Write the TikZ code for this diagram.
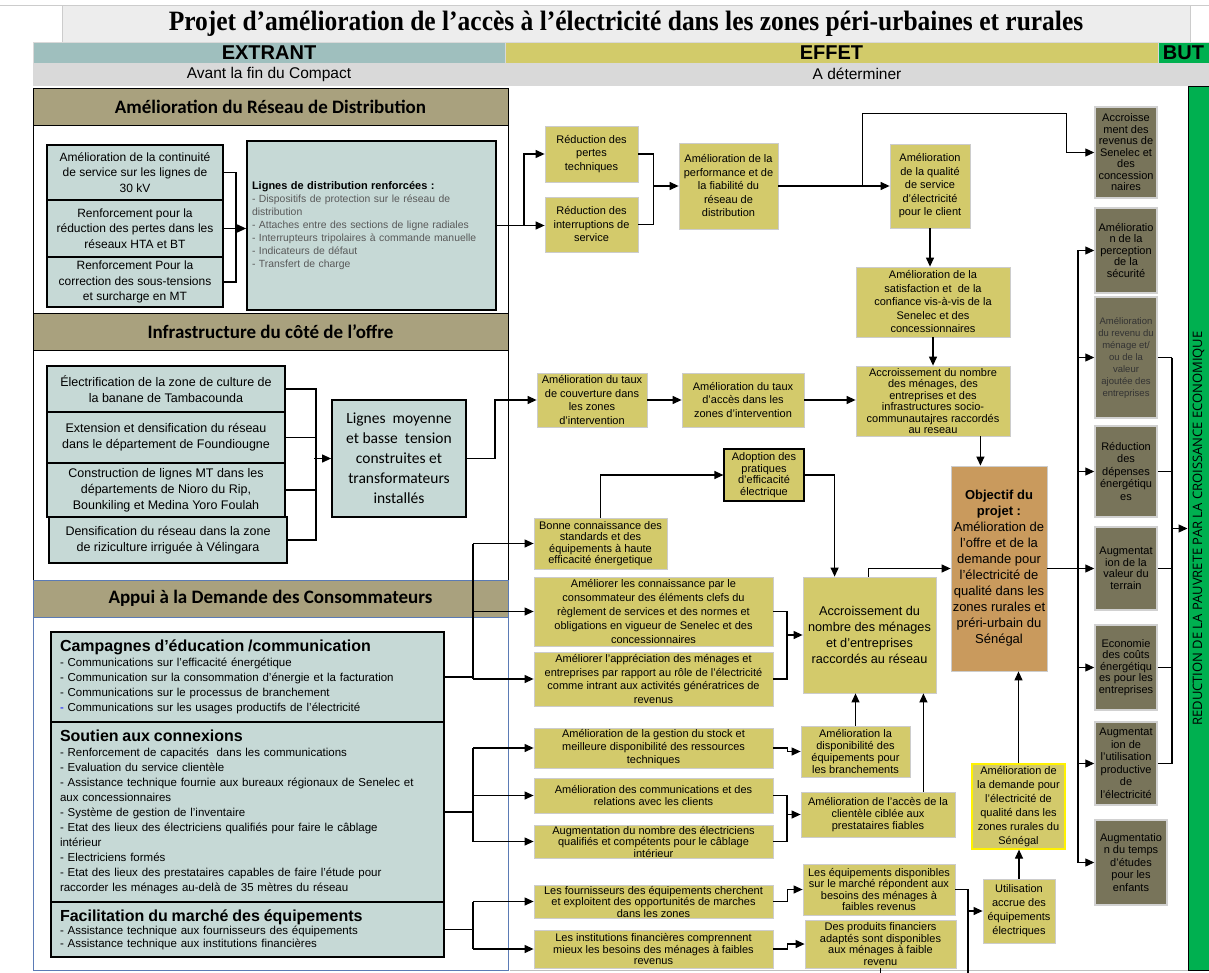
\documentclass[tikz,border=0pt]{standalone}
\usepackage{fontspec}
\setmainfont{Liberation Sans}
\newfontfamily\calib{Carlito}
\newfontfamily\opsans{Open Sans}
\newfontfamily\tnr{Liberation Serif}[FakeStretch=0.91]
\usetikzlibrary{arrows.meta,calc}

\definecolor{extband}{HTML}{9FBFBE}
\definecolor{effband}{HTML}{D2CB6A}
\definecolor{butgreen}{HTML}{00B050}
\definecolor{subband}{HTML}{D9D9D9}
\definecolor{titlegray}{HTML}{EDEDED}
\definecolor{sechead}{HTML}{A9A17E}
\definecolor{extfill}{HTML}{C6D9D6}
\definecolor{efffill}{HTML}{D3CA6B}
\definecolor{butfill}{HTML}{78745A}
\definecolor{objfill}{HTML}{C99A5D}
\definecolor{secblue}{HTML}{5B7BB5}

% box from (#4,#5) to (#6,#7), pixel units
\newcommand\bx[8][]{%
  \pgfmathsetmacro\bxw{#6-#4}\pgfmathsetmacro\bxh{#7-#5}%
  \node[#2,minimum width=\bxw pt,minimum height=\bxh pt,#1] (#3) at ({(#4+#6)/2},{(#5+#7)/2}) {#8};}

\tikzset{
  band/.style={draw=black!15,line width=0.5pt,inner sep=0pt,font=\bfseries\fontsize{20}{21}\selectfont},
  subb/.style={draw=black!15,line width=0.5pt,fill=subband,inner sep=0pt,font=\fontsize{15.5}{16}\selectfont},
  sec/.style={draw=black,line width=0.8pt,fill=sechead,inner sep=0pt,font=\calib\bfseries\fontsize{19}{21}\selectfont},
  ext/.style={draw=black,line width=1.8pt,fill=extfill,align=center,inner sep=1pt,font=\fontsize{12}{15.5}\selectfont},
  lst/.style={align=left,inner xsep=9pt,font=\fontsize{11.5}{15}\selectfont},
  eff/.style={draw=black!20,line width=0.8pt,fill=efffill,align=center,inner sep=1pt,font=\fontsize{11}{13.5}\selectfont},
  tight/.style={font=\fontsize{11}{11.5}\selectfont},
  but/.style={draw=black!18,line width=1.5pt,fill=butfill,align=center,inner sep=1pt,font=\fontsize{11}{11.5}\selectfont},
  lnk/.style={line width=1.2pt},
  arr/.style={lnk,-{Triangle[length=9pt,width=8pt]}}
}

\begin{document}
\begin{tikzpicture}[x=1pt,y=-1pt]
\useasboundingbox (0,0) rectangle (1209,973);
\fill[white] (0,0) rectangle (1209,973);
\draw[black!20] (0,5) -- (1209,5);

% header
\bx{draw=black!20,fill=titlegray,inner sep=0pt,font=\tnr\bfseries\fontsize{28}{30}\selectfont}{title}{62}{5}{1190}{42}{Projet d’amélioration de l’accès à l’électricité dans les zones péri-urbaines et rurales}
\bx{band,fill=extband}{extr}{33}{42}{505}{63}{EXTRANT}
\bx{band,fill=effband}{effet}{505}{42}{1158}{63}{EFFET}
\bx{band,fill=butgreen}{butb}{1158}{42}{1209}{63}{BUT}
\bx{subb}{avant}{33}{63}{505}{85}{Avant la fin du Compact}
\bx{subb}{adet}{505}{63}{1209}{85}{A déterminer}

% sections
\draw[line width=0.6pt] (33,88) rectangle (508,580);
\draw[secblue,line width=0.8pt] (33,580) rectangle (508,970);
\bx{sec}{h1}{33}{88}{508}{125}{Amélioration du Réseau de Distribution}
\bx{sec}{h2}{33}{313}{508}{350}{Infrastructure du côté de l’offre}
\bx{sec,draw=secblue}{h3}{33}{580}{508}{617}{Appui à la Demande des Consommateurs}

\bx{ext}{a1}{47}{145}{223}{200}{Amélioration de la continuité\\de service sur les lignes de\\30 kV}
\bx{ext}{a2}{47}{200}{223}{257}{Renforcement pour la\\réduction des pertes dans les\\réseaux HTA et BT}
\bx{ext}{a3}{47}{257}{223}{307}{Renforcement Pour la\\correction des sous-tensions\\et surcharge en MT}
\bx[align=left,text width=239pt,inner xsep=5pt,text=black!65,font=\fontsize{10.4}{13}\selectfont]{ext}{b1}{247}{141}{496}{310}{{\color{black}\bfseries\fontsize{11}{13}\selectfont Lignes de distribution renforcées :}\\- Dispositifs de protection sur le réseau de\\distribution\\- Attaches entre des sections de ligne radiales\\- Interrupteurs tripolaires à commande manuelle\\- Indicateurs de défaut\\- Transfert de charge}

\bx[font=\fontsize{12.5}{16}\selectfont]{ext}{i1}{47}{366}{285}{412}{Électrification de la zone de culture de\\la banane de Tambacounda}
\bx[font=\fontsize{12.5}{16}\selectfont]{ext}{i2}{47}{412}{285}{463}{Extension et densification du réseau\\dans le département de Foundiougne}
\bx[font=\fontsize{12.5}{16}\selectfont]{ext}{i3}{47}{463}{285}{517}{Construction de lignes MT dans les\\départements de Nioro du Rip,\\Bounkiling et Medina Yoro Foulah}
\bx[font=\fontsize{12.5}{16}\selectfont]{ext}{i4}{49}{517}{287}{563}{Densification du réseau dans la zone\\de riziculture irriguée à Vélingara}
\bx[font=\calib\fontsize{15.5}{20}\selectfont]{ext}{i5}{332}{400}{466}{517}{Lignes~ moyenne\\et basse~ tension\\construites et\\transformateurs\\installés}

\bx[lst,text width=375pt]{ext}{c1}{51}{632}{444}{722}{{\fontsize{16}{18}\selectfont\bfseries Campagnes d’éducation /communication}\\- Communications sur l’efficacité énergétique\\- Communication sur la consommation d’énergie et la facturation\\- Communications sur le processus de branchement\\{\color{blue}-} Communications sur les usages productifs de l’électricité}
\bx[lst,text width=375pt]{ext}{c2}{51}{722}{444}{902}{{\fontsize{16}{18}\selectfont\bfseries Soutien aux connexions}\\- Renforcement de capacités~ dans les communications\\- Evaluation du service clientèle\\- Assistance technique fournie aux bureaux régionaux de Senelec et\\aux concessionnaires\\- Système de gestion de l’inventaire\\- Etat des lieux des électriciens qualifiés pour faire le câblage\\intérieur\\- Electriciens formés\\- Etat des lieux des prestataires capables de faire l’étude pour\\raccorder les ménages au-delà de 35 mètres du réseau}
\bx[lst,text width=375pt,font=\fontsize{11.5}{13}\selectfont]{ext}{c3}{51}{902}{444}{957}{{\fontsize{16}{16}\selectfont\bfseries Facilitation du marché des équipements}\\- Assistance technique aux fournisseurs des équipements\\- Assistance technique aux institutions financières}

% effets
\bx{eff}{e1}{545}{126}{638}{182}{Réduction des\\pertes\\techniques}
\bx{eff}{e2}{545}{197}{638}{252}{Réduction des\\interruptions de\\service}
\bx{eff}{e3}{679}{143}{778}{229}{Amélioration de la\\performance et de\\la fiabilité du\\réseau de\\distribution}
\bx{eff}{e4}{890}{144}{970}{228}{Amélioration\\de la qualité\\de service\\d’électricité\\pour le client}
\bx{eff}{e5}{856}{267}{1010}{337}{Amélioration de la\\satisfaction et~ de la\\confiance vis-à-vis de la\\Senelec et des\\concessionnaires}
\bx[tight]{eff}{e6}{856}{366}{1010}{436}{Accroissement du nombre\\des ménages, des\\entreprises et des\\infrastructures socio-\\communautajres raccordés\\au reseau}
\bx{eff}{e7}{537}{373}{647}{427}{Amélioration du taux\\de couverture dans\\les zones\\d’intervention}
\bx{eff}{e8}{682}{373}{804}{427}{Amélioration du taux\\d’accès dans les\\zones d’intervention}
\bx[tight,draw=black,line width=1.2pt]{eff}{e9}{724}{449}{804}{501}{Adoption des\\pratiques\\d’efficacité\\électrique}
\bx[tight]{eff}{e10}{534}{518}{667}{569}{Bonne connaissance des\\standards et des\\équipements à haute\\efficacité énergetique}
\bx[font=\fontsize{11}{13.8}\selectfont]{eff}{e11}{534}{577}{773}{646}{Améliorer les connaissance par le\\consommateur des éléments clefs du\\règlement de services et des normes et\\obligations en vigueur de Senelec et des\\concessionnaires}
\bx{eff}{e12}{534}{652}{773}{706}{Améliorer l’appréciation des ménages et\\entreprises par rapport au rôle de l’électricité\\comme intrant aux activités génératrices de\\revenus}
\bx[font=\fontsize{12.7}{16}\selectfont]{eff}{e13}{803}{577}{936}{693}{Accroissement du\\nombre des ménages\\et d’entreprises\\raccordés au réseau}
\bx[font=\fontsize{11}{13}\selectfont]{eff}{e14}{534}{728}{773}{768}{Amélioration de la gestion du stock et\\meilleure disponibilité des ressources\\techniques}
\bx[font=\fontsize{11}{12.5}\selectfont]{eff}{e15}{534}{778}{773}{813}{Amélioration des communications et des\\relations avec les clients}
\bx[tight]{eff}{e16}{534}{825}{773}{858}{Augmentation du nombre des électriciens\\qualifiés et compétents pour le câblage\\intérieur}
\bx[tight]{eff}{e17}{534}{885}{773}{918}{Les fournisseurs des équipements cherchent\\et exploitent des opportunités de marches\\dans les zones}
\bx[tight]{eff}{e18}{534}{930}{773}{968}{Les institutions financières comprennent\\mieux les besoins des ménages à faibles\\revenus}
\bx[font=\fontsize{11}{12}\selectfont]{eff}{e19}{801}{726}{910}{777}{Amélioration la\\disponibilité des\\équipements pour\\les branchements}
\bx[font=\fontsize{11}{12}\selectfont]{eff}{e20}{801}{792}{955}{837}{Amélioration de l’accès de la\\clientèle ciblée aux\\prestataires fiables}
\bx[tight]{eff}{e21}{803}{864}{955}{915}{Les équipements disponibles\\sur le marché répondent aux\\besoins des ménages à\\faibles revenus}
\bx[tight]{eff}{e22}{805}{920}{956}{968}{Des produits financiers\\adaptés sont disponibles\\aux ménages à faible\\revenu}
\bx[font=\fontsize{11}{14}\selectfont]{eff}{e23}{983}{879}{1055}{943}{Utilisation\\accrue des\\équipements\\électriques}
\bx[font=\fontsize{11}{14}\selectfont,draw=yellow,line width=1.2pt]{eff}{e24}{972}{764}{1065}{849}{Amélioration de\\la demande pour\\l’électricité de\\qualité dans les\\zones rurales du\\Sénégal}
\bx[fill=objfill,font=\fontsize{13}{16}\selectfont]{eff}{o}{951}{466}{1047}{671}{{\bfseries Objectif du}\\{\bfseries projet :}\\Amélioration de\\l’offre et de la\\demande pour\\l’électricité de\\qualité dans les\\zones rurales et\\préri-urbain du\\Sénégal}

% but
\bx{but}{r1}{1095}{107}{1157}{198}{Accroisse\\ment des\\revenus de\\Senelec et\\des\\concession\\naires}
\bx{but}{r2}{1095}{208}{1157}{293}{Amélioratio\\n de la\\perception\\de la\\sécurité}
\bx[text=black!80,font=\fontsize{9.5}{12}\selectfont]{but}{r3}{1095}{297}{1157}{418}{Amélioration\\du revenu du\\ménage et/\\ou de la\\valeur\\ajoutée des\\entreprises}
\bx[font=\fontsize{11}{12.5}\selectfont]{but}{r4}{1095}{426}{1157}{517}{Réduction\\des\\dépenses\\énergétiqu\\es}
\bx{but}{r5}{1095}{527}{1157}{610}{Augmentat\\ion de la\\valeur du\\terrain}
\bx{but}{r6}{1095}{625}{1157}{710}{Economie\\des coûts\\énergétiqu\\es pour les\\entreprises}
\bx[font=\fontsize{11}{12.5}\selectfont]{but}{r7}{1095}{722}{1157}{805}{Augmentat\\ion de\\l’utilisation\\productive\\de\\l’électricité}
\bx[font=\fontsize{11}{12.5}\selectfont]{but}{r8}{1095}{820}{1167}{905}{Augmentatio\\n du temps\\d’études\\pour les\\enfants}
\bx{draw=black,line width=1pt,fill=butgreen}{gbar}{1188}{87}{1209}{970}{}
\node[rotate=90,font=\opsans\fontsize{13}{14}\selectfont] (gtxt) at (gbar.center) {REDUCTION DE LA PAUVRETE PAR LA CROISSANCE ECONOMIQUE};
\draw[black!25] (510,970) -- (1188,970);

% liens extrants
\draw[lnk] (a1.east) -- ++(12,0) |- (a3.east);
\draw[lnk] (a2.east) -- ++(12,0);
\draw[arr] (a2.east) ++(12,0) -- (b1.west |- a2.east);
\draw[arr] (b1.east) -- (e2.west |- b1.east);
\draw[arr] (b1.east) ++(27,0) |- (e1.west);
\draw[lnk] (i1.east) -- ++(30,0) |- (i4.east);
\draw[lnk] (i2.east) -- ++(30,0) (i3.east) -- ++(30,0);
\draw[arr] (i5.west) ++(-17,0) -- (i5.west);
\draw[arr] (i5.east) -- ++(28,0) |- (e7.west);
\coordinate (k1) at (473,0);
\draw[lnk] (c1.east) -- (c1.east -| k1) (e10.west -| k1) -- (e12.west -| k1);
\draw[lnk] (c2.east) -- (c2.east -| k1) (e14.west -| k1) -- (e16.west -| k1);
\draw[lnk] (c3.east) -- (c3.east -| k1) (e17.west -| k1) -- (e18.west -| k1);
\foreach \n in {e10,e11,e12,e14,e15,e16,e17,e18} \draw[arr] (\n.west -| k1) -- (\n.west);

% liens effets
\draw[lnk] (e1.east) -- ++(15,0) |- (e2.east);
\draw[arr] (e1.east) ++(15,0) |- (e3.west);
\draw[arr] (e3.east) -- (e4.west);
\draw[arr] (e3.east) ++(84,0) |- ($(r1.west)+(-28,-39)$) |- (r1.west);
\draw[arr] (e4.south) -- (e4.south |- e5.north);
\draw[arr] (e5.south) -- (e5.south |- e6.north);
\draw[arr] ($(e6.south east)+(-30,0)$) coordinate (q1) -- (q1 |- o.north);
\draw[arr] (e7.east) -- (e8.west);
\draw[arr] (e8.east) -- (e6.west |- e8.east);
\draw[arr] (e10.north) |- (e9.west);
\draw[arr] (e9.east) -| ($(e13.north west)+(32,0)$);
\coordinate (k3) at (787,0);
\draw[lnk] (e11.east) -| (k3 |- e12.east) -- (e12.east);
\draw[arr] (e13.west -| k3) -- (e13.west);
\draw[arr] ($(e13.north west)+(66,0)$) |- (o.west);
\draw[arr] (e14.east) -- ++(14,0) |- (e19.west);
\draw[arr] (e19.north) -- (e19.north |- e13.south);
\draw[lnk] (e15.east) -| (k3 |- e16.east) -- (e16.east);
\draw[arr] (e20.west -| k3) -- (e20.west);
\draw[arr] ($(e20.north east)+(-32,0)$) coordinate (q2) -- (q2 |- e13.south);
\draw[arr] (e17.east) -- ++(14,0) |- (e21.west);
\draw[arr] (e18.east) -- ++(14,0) |- (e22.west);
\coordinate (bot) at (0,973);
\coordinate (k4) at (968,0);
\draw[lnk] (e21.east) -| (k4 |- bot);
\draw[arr] (e23.west -| k4) -- (e23.west);
\draw[lnk] (e22.south) -- (e22.south |- bot);
\draw[arr] (e23.north) -- (e23.north |- e24.south);
\draw[arr] (e24.north) -- (e24.north |- o.south);

% liens but
\coordinate (k5) at (1078,0);
\draw[lnk] (o.east) -- (o.east -| k5) (r2.west -| k5) -- (r8.west -| k5);
\foreach \n in {2,...,8} \draw[arr] (r\n.west -| k5) -- (r\n.west);
\coordinate (k6) at (1172,0);
\foreach \n in {3,...,7} \draw[lnk] (r\n.east) -- (r\n.east -| k6);
\draw[lnk] (r3.east -| k6) -- (r7.east -| k6);
\draw[arr] (gbar.west -| k6) -- (gbar.west);
\end{tikzpicture}
\end{document}
